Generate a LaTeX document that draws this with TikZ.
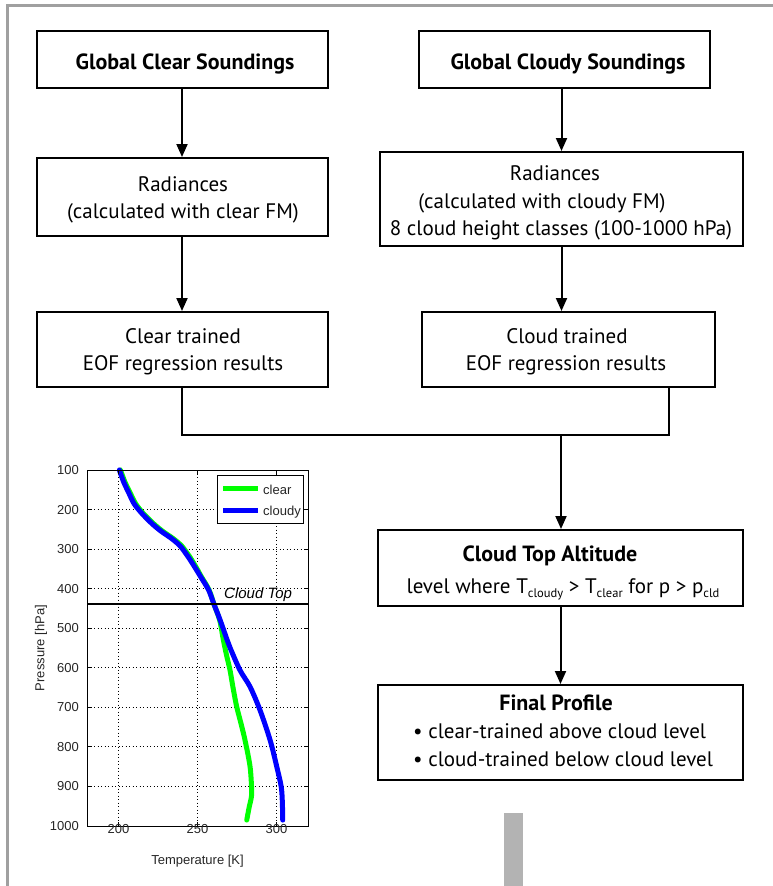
\documentclass[tikz,border=0pt]{standalone}
\usepackage{fontspec}
\setmainfont{PT Sans}
\newfontfamily\plotfont{Liberation Sans}
\usetikzlibrary{arrows.meta}
\newcommand\mysub[1]{\raisebox{-0.4ex}{\fontsize{12.5}{12.5}\selectfont #1}}
\definecolor{framegray}{HTML}{A0A0A0}
\definecolor{bargray}{HTML}{B3B3B3}
\definecolor{plottext}{HTML}{262626}
\definecolor{cgreen}{HTML}{00FF00}
\definecolor{cblue}{HTML}{0000FF}
\tikzset{
  box/.style={draw=black, line width=2pt, inner sep=0pt},
  lbl/.style={anchor=base, inner sep=0pt, font=\fontsize{21}{21}\selectfont},
  blbl/.style={anchor=base, inner sep=0pt, font=\fontsize{22}{22}\selectfont\bfseries},
  conn/.style={line width=2pt, -{Triangle[width=11pt,length=13pt]}},
  wire/.style={line width=2pt},
  gridline/.style={black, line width=0.8pt, dash pattern=on 1pt off 2.5pt},
  ticklbl/.style={inner sep=0pt, text=plottext, font=\plotfont\fontsize{13}{13}\selectfont},
  curve/.style={line width=5pt, line join=round, line cap=round}
}
\begin{document}
\begin{tikzpicture}[x=1pt,y=-1pt]
\useasboundingbox (0,0) rectangle (773,886);
% outer frame
\draw[framegray, line width=3pt] (7,886) -- (7,5) -- (773,5);
% gray bar
\fill[bargray] (504,813) rectangle (523,886);

% boxes
\node[box, minimum width=291pt, minimum height=57pt] (A) at (182,59.5) {};
\node[box, minimum width=291pt, minimum height=57pt] (B) at (564.5,59.5) {};
\node[box, minimum width=291pt, minimum height=78pt] (C) at (182,197) {};
\node[box, minimum width=363pt, minimum height=94pt] (D) at (561.5,199) {};
\node[box, minimum width=291pt, minimum height=75pt] (E) at (182,349.5) {};
\node[box, minimum width=293pt, minimum height=75pt] (F) at (568.5,349.5) {};
\node[box, minimum width=365pt, minimum height=76pt] (G) at (560.5,568) {};
\node[box, minimum width=365pt, minimum height=95pt] (H) at (560.5,732.5) {};

% texts
\node[blbl] (tA) at (185,69.5) {Global Clear Soundings};
\node[blbl] (tB) at (568,69.5) {Global Cloudy Soundings};
\node[lbl] (tC1) at (183,191) {Radiances};
\node[lbl] (tC2) at (183,218) {(calculated with clear FM)};
\node[lbl] (tD1) at (555,180) {Radiances};
\node[lbl] (tD2) at (542,208) {(calculated with cloudy FM)};
\node[lbl] (tD3) at (561,235) {8 cloud height classes (100-1000 hPa)};
\node[lbl] (tE1) at (183,343) {Clear trained};
\node[lbl] (tE2) at (183,370) {EOF regression results};
\node[lbl] (tF1) at (567,343) {Cloud trained};
\node[lbl] (tF2) at (566,370) {EOF regression results};
\node[blbl] (tG1) at (550,561) {Cloud Top Altitude};
\node[lbl] (tG2) at (563,593) {level where T\mysub{cloudy} > T\mysub{clear} for p > p\mysub{cld}};
\node[blbl] (tH1) at (556,710) {Final Profile};
\node[lbl, anchor=base west] (tH2) at (413,738) {\textbullet\ clear-trained above cloud level};
\node[lbl, anchor=base west] (tH3) at (413,766) {\textbullet\ cloud-trained below cloud level};

% connectors
\draw[conn] (A.south) -- (C.north);
\draw[conn] (B.south -| D.north) -- (D.north);
\draw[conn] (C.south) -- (E.north);
\draw[conn] (D.south) -- (D.south |- F.north);
\coordinate (fleg) at (669,387);
\coordinate (join) at (561,435);
\draw[wire] (E.south) |- (join);
\draw[wire] (fleg) |- (join);
\draw[conn] (join) -- (join |- G.north);
\draw[conn] (G.south) -- (H.north);

% ---------- plot ----------
\begin{scope}[shift={(-197.148,430.444)}, xscale=1.5786, yscale=0.39556]
  \foreach \t in {200,250,300} \draw[gridline] (\t,100) -- (\t,1000);
  \foreach \p in {200,300,...,900} \draw[gridline] (180,\p) -- (320,\p);
  \draw[cgreen, curve] plot[smooth, tension=0.5] coordinates {
    (201.2,100) (204,130) (207.5,159) (210.8,185) (215.5,209) (222,235) (228,255)
    (234.5,273) (240,292) (245,319) (249,345) (252.5,370) (257.3,403) (260.5,440)
    (264,479) (266.4,530) (268.5,570) (270.6,606) (272.5,650) (274.8,698)
    (277.5,740) (280.1,783) (283.3,850) (284.3,909) (284,930) (282.8,951) (281.2,985)};
  \draw[cblue, curve] plot[smooth, tension=0.5] coordinates {
    (200.5,100) (203.2,130) (206.6,159) (209.8,185) (214.6,209) (221,235) (227,255)
    (233.5,273) (239,292) (244,319) (248.2,345) (252,370) (257,403) (260.5,440)
    (264.3,479) (268.8,530) (270.8,551) (276.9,606) (283.3,648) (289.6,707)
    (296,783) (300.2,850) (303.3,909) (304,985)};
  \draw[black, line width=1pt] (180,100) rectangle (320,1000);
  \foreach \t in {200,250,300} {
    \draw[black, line width=0.8pt] (\t,1000) -- (\t,990);
    \draw[black, line width=0.8pt] (\t,100) -- (\t,110);
    \node[ticklbl, anchor=base] at ([yshift=-20pt]\t,1000) {\t};
  }
  \foreach \p in {100,200,...,1000} {
    \draw[black, line width=0.8pt] (180,\p) -- (182.5,\p);
    \draw[black, line width=0.8pt] (320,\p) -- (317.5,\p);
    \node[ticklbl, anchor=east] at ([xshift=-5pt]180,\p) {\p};
  }
  \draw[black, line width=2pt] (180,438.8) -- (320,438.8);
\end{scope}
\node[ticklbl, anchor=base] (xl) at (197.5,864) {Temperature [K]};
\node[ticklbl, rotate=90] (yl) at (41,648) {Pressure [hPa]};
\node[ticklbl, anchor=base west, font=\plotfont\itshape\fontsize{15}{15}\selectfont, text=black] (ct) at (224,598) {Cloud Top};
% legend
\node[draw=black, line width=1pt, fill=white, minimum width=86pt, minimum height=48pt, inner sep=0pt] (leg) at (260,499) {};
\coordinate (g1) at (223,488); \coordinate (g2) at (258,488);
\coordinate (b1) at (223,510); \coordinate (b2) at (258,510);
\draw[cgreen, line width=5pt] (g1) -- (g2);
\draw[cblue, line width=5pt] (b1) -- (b2);
\node[ticklbl, anchor=base west] (lg) at (263,494) {clear};
\node[ticklbl, anchor=base west] (lb) at (263,515) {cloudy};
\end{tikzpicture}
\end{document}
